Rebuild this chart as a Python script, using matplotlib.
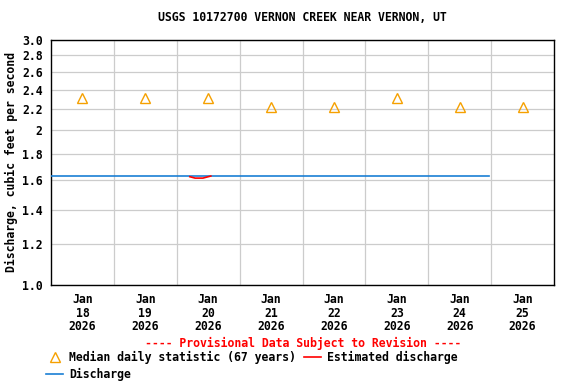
import matplotlib
matplotlib.use('Agg')
import matplotlib.pyplot as plt
from matplotlib.lines import Line2D
from datetime import datetime

plt.rcParams['font.family'] = 'DejaVu Sans Mono'
plt.rcParams['font.weight'] = 'bold'
plt.rcParams['axes.titleweight'] = 'bold'
plt.rcParams['axes.labelweight'] = 'bold'
plt.rcParams['font.size'] = 8.3

# discharge (cfs)
q_times = [datetime(2026, 1, 17, 12), datetime(2026, 1, 19, 18), datetime(2026, 1, 20, 0),
           datetime(2026, 1, 22, 12), datetime(2026, 1, 24, 11)]
q_vals = [1.63, 1.63, 1.63, 1.63, 1.63]
est_times = [datetime(2026, 1, 19, 17), datetime(2026, 1, 19, 19), datetime(2026, 1, 19, 22),
             datetime(2026, 1, 20, 0), datetime(2026, 1, 20, 1)]
est_vals = [1.625, 1.615, 1.615, 1.625, 1.63]

# median daily statistic
med_days = [datetime(2026, 1, d) for d in range(18, 26)]
med_vals = [2.31, 2.31, 2.31, 2.22, 2.22, 2.31, 2.22, 2.22]

yticks = [1.0, 1.2, 1.4, 1.6, 1.8, 2.0, 2.2, 2.4, 2.6, 2.8, 3.0]
ylabels = ['1.0', '1.2', '1.4', '1.6', '1.8', '2', '2.2', '2.4', '2.6', '2.8', '3.0']

fig = plt.figure(figsize=(5.76, 3.84), dpi=100)
ax = fig.add_axes([51/576, 1 - 285/384, 503/576, 245/384])

blue = '#1a7fd4'
orange = '#f5a000'
ax.plot(q_times, q_vals, color=blue, lw=1.2, zorder=3)
ax.plot(est_times, est_vals, color='red', lw=1.2, zorder=4)
ax.plot(med_days, med_vals, linestyle='none', marker='^', markersize=7,
        markerfacecolor='none', markeredgecolor=orange, markeredgewidth=1, zorder=5)

ax.set_yscale('log')
ax.set_ylim(1.0, 3.0)
ax.set_yticks(yticks)
ax.set_yticklabels(ylabels, fontweight='bold')
ax.yaxis.set_minor_locator(matplotlib.ticker.NullLocator())
ax.set_xlim(datetime(2026, 1, 17, 12), datetime(2026, 1, 25, 12))
ax.set_xticks(med_days)
ax.set_xticklabels([d.strftime('Jan\n%d\n%Y') for d in med_days], fontweight='bold',
                   linespacing=1.05)
grid_x = [datetime(2026, 1, d, 12) for d in range(18, 25)]
for gx in grid_x:
    ax.axvline(gx, color='#cccccc', lw=0.9, zorder=1)
ax.grid(axis='y', color='#cccccc', lw=0.9, zorder=1)
ax.tick_params(length=0, pad=6)
for s in ax.spines.values():
    s.set_linewidth(1)
ax.set_ylabel('Discharge, cubic feet per second', labelpad=3, fontweight='bold')
ax.set_title('USGS 10172700 VERNON CREEK NEAR VERNON, UT', pad=14, fontsize=8.3)

fig.text(303/576, 1 - 343/384, '---- Provisional Data Subject to Revision ----',
         color='red', ha='center', va='center', fontweight='bold')

handles = [
    Line2D([], [], linestyle='none', marker='^', markersize=7, markerfacecolor='none',
           markeredgecolor=orange, markeredgewidth=1),
    Line2D([], [], color=blue, lw=1.2),
    Line2D([], [], color='red', lw=1.2),
]
labels = ['Median daily statistic (67 years)', 'Discharge', 'Estimated discharge']
fig.legend(handles, labels, ncol=2, loc='upper left', bbox_to_anchor=(46/576, 1 - 351/384),
           frameon=False, handlelength=1.5, handletextpad=0.5, columnspacing=0.7,
           labelspacing=0.3, borderpad=0, borderaxespad=0)

fig.savefig('out.png', dpi=100)
